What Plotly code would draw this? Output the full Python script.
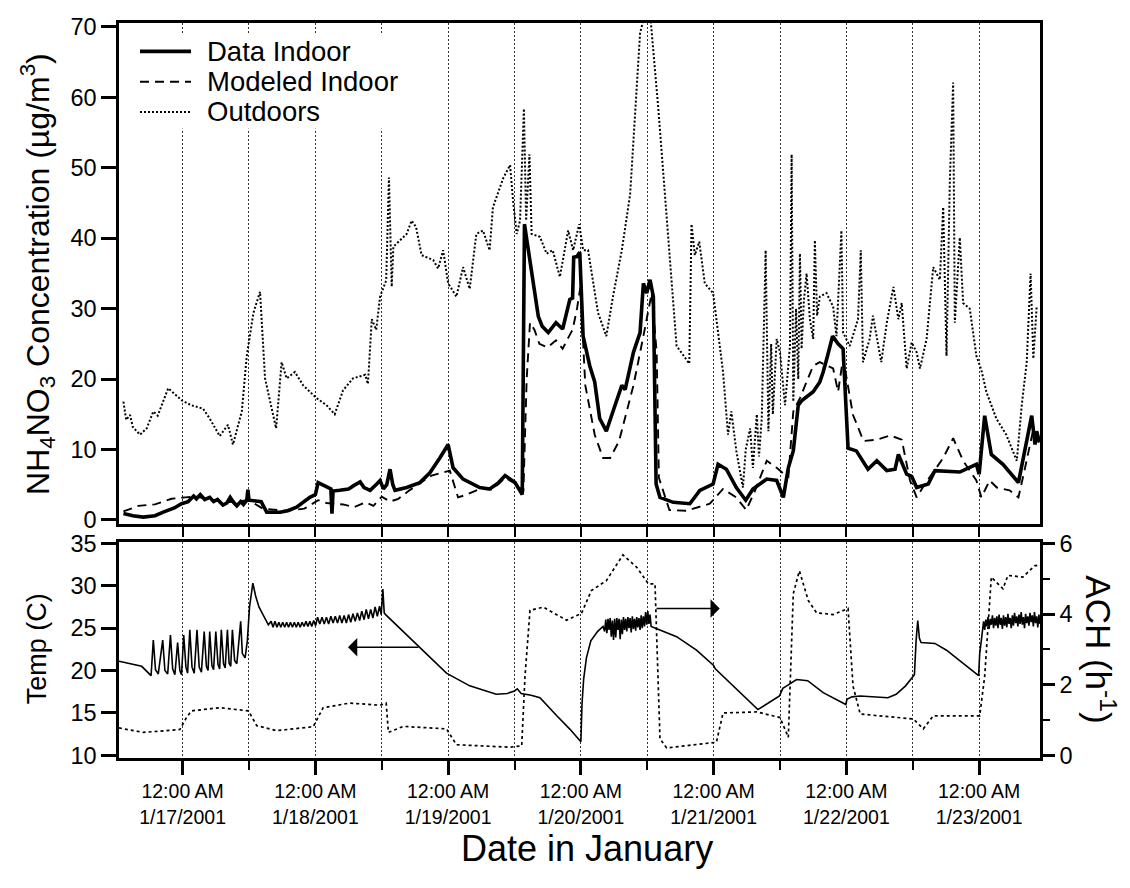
import pandas as pd
import plotly.graph_objects as go

# ---------------- data (hours since 12:00 AM 1/17/2001, value) ----------------
indoor = [(-10.7, 0.9), (-9.0, 0.6), (-7.1, 0.4), (-5.0, 0.6), (-3.5, 1.1), (-1.5, 1.7), (-0.2, 2.3),
          (1.0, 2.6), (2.0, 3.4), (2.5, 3.0), (3.2, 3.6), (4.0, 2.9), (4.9, 3.2), (5.6, 2.6), (6.3, 2.9),
          (7.3, 2.1), (8.0, 2.4), (8.6, 3.2), (9.2, 2.5), (9.8, 2.0), (10.5, 2.6), (11.0, 2.2), (11.6, 2.8),
          (11.8, 4.3), (12.0, 2.8), (13.4, 2.7), (14.2, 2.6), (15.2, 1.1), (17.6, 1.1), (19.0, 1.3),
          (20.6, 1.8), (23.0, 3.2), (24.0, 3.6), (24.5, 5.3), (25.2, 5.0), (26.0, 4.6), (26.8, 4.4),
          (27.0, 0.9), (27.2, 4.1), (28.4, 4.2), (30.0, 4.4), (31.0, 4.9), (32.1, 5.4), (32.8, 4.6),
          (33.9, 4.2), (35.1, 5.1), (35.7, 5.6), (36.3, 4.4), (36.9, 5.0), (37.5, 7.2), (38.0, 5.0),
          (38.4, 4.2), (40.5, 4.6), (42.9, 5.3), (44.7, 6.7), (46.5, 8.8), (48.0, 10.7), (48.9, 7.4),
          (50.7, 5.8), (53.7, 4.6), (55.5, 4.4), (57.0, 5.2), (58.3, 6.3), (60.1, 5.3), (61.0, 4.2),
          (61.4, 3.6), (61.8, 42.0), (63.4, 33.1), (64.3, 28.9), (65.0, 27.5), (66.1, 26.6), (67.5, 28.0),
          (68.7, 27.1), (70.0, 31.3), (70.5, 31.5), (70.7, 37.3), (71.3, 37.4), (71.8, 38.0), (72.4, 26.1),
          (73.6, 21.9), (74.5, 19.6), (75.4, 14.4), (76.6, 12.6), (77.8, 15.4), (79.4, 19.1), (80.0, 18.5),
          (81.5, 23.8), (82.7, 26.6), (83.3, 33.6), (83.9, 32.2), (84.5, 34.1), (85.1, 31.7), (85.6, 5.1),
          (86.3, 3.2), (88.7, 2.5), (91.7, 2.3), (93.5, 4.2), (95.9, 5.1), (96.8, 7.9), (98.3, 7.2),
          (100.1, 4.6), (101.8, 2.8), (103.1, 4.4), (105.6, 5.8), (107.4, 5.6), (108.6, 3.2), (109.5, 7.4),
          (110.4, 9.8), (111.3, 16.3), (112.0, 17.0), (114.0, 18.2), (115.2, 19.6), (115.8, 21.0),
          (116.6, 23.3), (117.5, 26.1), (118.5, 25.0), (119.4, 24.3), (120.3, 10.2), (121.8, 9.8),
          (123.9, 7.2), (125.5, 8.4), (127.3, 7.0), (128.8, 7.2), (129.4, 9.3), (130.9, 6.5), (131.8, 6.2),
          (132.7, 4.6), (134.8, 5.1), (136.0, 7.0), (140.5, 6.8), (143.5, 7.9), (144.0, 6.5), (145.0, 14.8),
          (146.2, 9.3), (148.3, 7.9), (151.1, 5.3), (152.3, 9.8), (153.5, 14.8), (154.1, 10.7),
          (154.4, 12.6), (154.9, 11.0)]

modeled = [(-10.7, 1.2), (-8.0, 2.0), (-5.0, 2.2), (-2.0, 3.0), (0.5, 3.2), (2.5, 3.3), (5.0, 2.9),
           (8.0, 2.5), (12.0, 2.8), (14.5, 1.6), (18.5, 1.3), (22.0, 1.6), (24.5, 2.8), (26.0, 2.4),
           (29.0, 2.2), (31.0, 1.8), (33.0, 2.5), (34.5, 2.0), (36.0, 3.3), (37.5, 2.6), (39.0, 3.0),
           (41.0, 4.2), (45.0, 6.3), (48.3, 7.0), (49.8, 3.2), (51.0, 3.5), (53.7, 4.4), (56.0, 4.3),
           (58.3, 6.0), (60.5, 5.0), (61.6, 4.0), (62.2, 20.0), (62.8, 28.0), (63.6, 27.0), (64.5, 25.0),
           (66.0, 24.5), (67.5, 25.5), (68.7, 24.3), (69.8, 26.0), (70.5, 27.0), (71.3, 30.0), (71.9, 33.0),
           (72.8, 19.1), (74.5, 12.1), (76.0, 8.8), (77.3, 8.8), (78.9, 11.2), (81.5, 19.1), (83.3, 26.1),
           (84.8, 32.2), (85.7, 23.8), (86.1, 6.0), (88.0, 1.4), (91.0, 1.3), (95.3, 2.3), (97.7, 4.4),
           (100.1, 3.2), (101.9, 1.4), (103.5, 4.2), (105.6, 8.4), (107.4, 7.4), (109.5, 6.0),
           (110.4, 15.4), (111.6, 17.3), (114.0, 21.9), (115.2, 22.4), (117.6, 21.5), (118.5, 18.2),
           (119.4, 23.0), (121.2, 14.9), (123.1, 11.2), (125.5, 11.4), (127.9, 12.0), (130.0, 11.4),
           (131.5, 5.6), (132.7, 3.2), (134.2, 5.1), (137.5, 8.8), (139.3, 11.6), (141.1, 8.4),
           (143.5, 5.6), (144.4, 3.2), (145.9, 5.6), (147.2, 4.6), (149.5, 4.2), (151.1, 3.2),
           (152.3, 7.4), (153.8, 12.9), (154.4, 10.7)]

outdoor = [(-10.7, 16.8), (-10.2, 14.2), (-9.5, 14.9), (-9.0, 13.2), (-7.7, 12.1), (-6.5, 13.0),
           (-5.3, 15.4), (-4.5, 14.8), (-2.6, 18.7), (-0.2, 17.0), (1.5, 16.3), (3.7, 15.8), (4.9, 14.4),
           (6.7, 11.9), (8.2, 13.5), (9.1, 10.7), (10.7, 15.4), (11.6, 23.3), (12.8, 29.4), (14.0, 32.4),
           (14.9, 20.1), (16.4, 14.4), (16.9, 13.0), (17.9, 22.4), (18.8, 20.1), (20.3, 21.0), (21.8, 19.1),
           (23.0, 18.2), (24.2, 17.3), (26.0, 16.3), (27.5, 15.0), (29.0, 18.4), (30.8, 20.1), (33.0, 20.6),
           (33.5, 19.3), (34.2, 28.5), (35.0, 27.0), (35.7, 31.7), (36.8, 34.0), (37.3, 48.6), (37.8, 33.1),
           (38.1, 38.8), (39.3, 39.7), (40.5, 40.6), (41.4, 42.5), (42.2, 41.6), (43.2, 37.6), (45.3, 36.9),
           (46.2, 35.7), (47.1, 38.3), (48.0, 33.6), (49.5, 31.7), (50.7, 35.9), (51.9, 32.8), (53.1, 40.6),
           (54.3, 41.1), (55.5, 38.3), (56.1, 44.4), (58.0, 48.6), (59.2, 50.4), (59.8, 44.8), (60.4, 40.6),
           (61.0, 42.5), (61.7, 58.4), (62.1, 42.5), (62.7, 51.9), (63.1, 40.6), (64.6, 40.2), (65.8, 37.8),
           (66.9, 38.3), (68.2, 34.5), (69.7, 41.1), (70.6, 38.3), (71.7, 42.0), (72.4, 38.3), (73.3, 38.3),
           (75.1, 29.4), (76.6, 26.1), (77.8, 31.7), (79.4, 38.3), (80.9, 46.2), (82.7, 69.1), (83.6, 72.0),
           (84.5, 72.0), (86.0, 58.4), (87.5, 42.5), (89.3, 24.7), (91.6, 22.2), (92.0, 42.0), (92.6, 37.6),
           (93.4, 39.5), (94.4, 33.6), (95.9, 32.2), (96.5, 28.5), (97.7, 21.0), (98.6, 12.1), (99.2, 15.4),
           (100.1, 9.8), (101.3, 4.6), (101.8, 10.0), (102.6, 13.0), (103.1, 7.4), (103.8, 15.0),
           (104.2, 9.0), (104.7, 14.4), (105.4, 38.3), (105.9, 12.6), (106.4, 25.0), (106.7, 15.0),
           (107.4, 25.7), (108.0, 23.8), (108.9, 16.3), (109.8, 24.7), (110.1, 51.9), (110.4, 16.8),
           (110.9, 30.0), (111.3, 20.0), (111.6, 37.8), (111.9, 24.3), (112.3, 31.0), (112.8, 35.0),
           (113.4, 28.5), (114.0, 25.7), (114.3, 39.7), (114.7, 29.0), (115.2, 31.7), (116.4, 32.2),
           (117.6, 30.3), (118.2, 26.1), (119.1, 41.1), (119.4, 26.6), (120.6, 24.7), (122.1, 28.5),
           (122.6, 38.3), (123.0, 22.4), (124.2, 25.7), (124.8, 29.0), (126.3, 22.4), (127.3, 28.0),
           (128.5, 33.1), (129.4, 28.5), (130.0, 30.8), (130.9, 21.5), (131.8, 25.2), (132.7, 23.8),
           (133.3, 21.5), (134.5, 25.7), (135.7, 35.9), (136.9, 34.1), (137.5, 44.4), (138.1, 23.3),
           (138.7, 48.1), (139.3, 62.1), (139.6, 28.0), (139.9, 32.2), (140.5, 40.1), (141.1, 30.8),
           (142.3, 30.0), (143.5, 23.3), (144.4, 21.3), (145.3, 18.2), (147.1, 14.4), (148.9, 12.1),
           (150.8, 8.4), (151.7, 16.3), (152.6, 22.4), (153.3, 35.0), (153.8, 22.9), (154.4, 30.3)]

temp = [(-11.5, 21.1), (-10.7, 21.0), (-7.4, 20.5), (-5.7, 19.4),
        (-5.3, 23.6), (-4.9, 20.1), (-4.4, 19.6), (-3.6, 23.6), (-3.2, 20.0), (-2.7, 19.6),
        (-2.2, 24.2), (-1.8, 20.2), (-1.4, 19.5), (-0.9, 23.3), (-0.5, 20.0), (-0.2, 19.5),
        (0.2, 24.2), (0.6, 20.4), (0.9, 19.7), (1.3, 24.8), (1.7, 20.4), (2.1, 19.7),
        (2.6, 24.8), (3.0, 20.4), (3.4, 19.8), (3.9, 24.6), (4.3, 20.5), (4.6, 20.0),
        (4.9, 24.6), (5.3, 20.6), (5.6, 20.1), (6.0, 24.6), (6.4, 20.7), (6.7, 20.2),
        (7.0, 24.8), (7.4, 20.8), (7.7, 20.3), (8.1, 24.8), (8.4, 20.9), (8.7, 20.5),
        (9.0, 24.8), (9.4, 21.2), (9.8, 20.8), (10.5, 25.8), (10.8, 22.0), (11.3, 21.5),
        (11.7, 23.5), (12.1, 27.5), (12.7, 30.3), (13.2, 28.8), (13.8, 27.5), (14.6, 26.5),
        (15.5, 25.4), (16.0, 25.8), (16.35, 25.1), (16.7, 25.8), (17.05, 25.1), (17.4, 25.7),
        (17.75, 25.1), (18.1, 25.7), (18.45, 25.1), (18.8, 25.7), (19.15, 25.1), (19.5, 25.7),
        (19.85, 25.1), (20.2, 25.7), (20.55, 25.1), (20.9, 25.7), (21.25, 25.1), (21.6, 25.7),
        (21.95, 25.2), (22.3, 25.8), (22.65, 25.2), (23.0, 25.8), (23.35, 25.2), (23.7, 25.9),
        (24.05, 25.3), (24.4, 26.3), (24.8, 25.5), (25.2, 26.3), (25.6, 25.5), (26.0, 26.3),
        (26.4, 25.5), (26.8, 26.4), (27.2, 25.6), (27.6, 26.4), (28.0, 25.6), (28.4, 26.5),
        (28.8, 25.6), (29.2, 26.5), (29.6, 25.6), (30.0, 26.6), (30.4, 25.7), (30.8, 26.7),
        (31.2, 25.8), (31.6, 26.8), (32.0, 25.9), (32.4, 27.0), (32.8, 26.0), (33.2, 27.2),
        (33.6, 26.1), (34.0, 27.2), (34.4, 26.2), (34.8, 27.5), (35.2, 26.4), (35.6, 27.6),
        (35.9, 26.6), (36.2, 29.6), (36.45, 26.8), (36.7, 26.6),
        (39.6, 24.8), (42.8, 22.8), (47.7, 19.7), (51.9, 18.2), (56.7, 17.2), (58.7, 17.3),
        (60.0, 17.6), (60.5, 17.85), (61.2, 17.3), (63.0, 17.1), (64.6, 16.8), (67.6, 14.7),
        (70.0, 13.1), (72.0, 11.6), (72.2, 16.0), (72.5, 19.0), (73.0, 21.5), (73.8, 23.5),
        (75.0, 24.6), (76.0, 25.2),
        (76.3, 24.6), (76.5, 26.0), (76.7, 24.4), (76.9, 26.1), (77.1, 24.8), (77.3, 26.2),
        (77.5, 24.0), (77.7, 25.9), (77.9, 23.6), (78.1, 26.1), (78.3, 23.9), (78.5, 26.2),
        (78.7, 24.8), (78.9, 26.1), (79.1, 23.7), (79.3, 26.0), (79.5, 24.3), (79.7, 26.3),
        (79.9, 24.8), (80.1, 26.1), (80.3, 24.6), (80.5, 26.3), (80.7, 25.0), (80.9, 26.2),
        (81.1, 24.5), (81.3, 26.4), (81.5, 24.9), (81.7, 26.1), (81.9, 24.7), (82.1, 26.3),
        (82.3, 25.1), (82.5, 26.2), (82.7, 24.8), (82.9, 26.5), (83.1, 25.0), (83.3, 26.4),
        (83.5, 25.2), (83.7, 26.9), (83.9, 25.4), (84.1, 27.0), (84.3, 25.5), (84.5, 26.6),
        (84.7, 25.2), (85.5, 25.0), (89.3, 24.0), (92.9, 22.4), (96.0, 20.6), (96.3, 20.2),
        (100.1, 17.8), (104.0, 15.4), (107.9, 17.0), (108.5, 17.9), (109.0, 18.1), (111.0, 18.95),
        (113.0, 18.8), (115.8, 17.4), (119.9, 16.0), (120.1, 16.6), (121.0, 16.9), (122.5, 17.0),
        (127.5, 16.8), (129.0, 17.2), (130.7, 18.2), (132.3, 19.5), (132.6, 23.5), (132.9, 25.9),
        (133.2, 23.8), (133.5, 23.3), (136.0, 23.2), (138.1, 22.4), (143.9, 19.4), (144.1, 22.0),
        (144.4, 23.6), (144.8, 25.8),
        (145.0, 24.8), (145.2, 26.0), (145.4, 25.2), (145.6, 26.3), (145.8, 24.9), (146.0, 26.1),
        (146.2, 25.4), (146.4, 26.5), (146.6, 25.0), (146.8, 26.2), (147.0, 25.3), (147.2, 26.4),
        (147.4, 25.0), (147.6, 26.6), (147.8, 25.4), (148.0, 26.2), (148.2, 24.9), (148.4, 26.5),
        (148.6, 25.3), (148.8, 26.3), (149.0, 25.1), (149.2, 26.7), (149.4, 25.5), (149.6, 26.2),
        (149.8, 25.0), (150.0, 26.5), (150.2, 25.3), (150.4, 26.8), (150.6, 25.6), (150.8, 26.4),
        (151.0, 25.2), (151.2, 26.6), (151.4, 25.5), (151.6, 26.9), (151.8, 25.4), (152.0, 26.3),
        (152.2, 25.0), (152.4, 26.7), (152.6, 25.6), (152.8, 26.4), (153.0, 25.3), (153.2, 26.8),
        (153.4, 25.7), (153.6, 26.5), (153.8, 25.2), (154.0, 26.9), (154.2, 25.6), (154.4, 26.4),
        (154.6, 25.1), (154.8, 26.6), (155.0, 25.5)]

ach = [(-11.5, 0.78), (-10.7, 0.75), (-7.1, 0.65), (-0.5, 0.73), (0.7, 1.07), (1.6, 1.26), (6.7, 1.35),
       (11.9, 1.26), (13.4, 0.84), (17.0, 0.70), (23.6, 0.81), (25.4, 1.35), (30.2, 1.48), (35.7, 1.42),
       (36.8, 1.48), (37.2, 0.65), (39.9, 0.82), (47.7, 0.75), (49.5, 0.30), (59.2, 0.23), (61.3, 0.27),
       (61.9, 2.24), (62.8, 4.11), (65.2, 4.20), (69.4, 3.83), (72.1, 4.02), (73.9, 4.67), (76.6, 4.95),
       (79.6, 5.68), (82.1, 5.33), (84.2, 4.86), (85.4, 4.86), (86.3, 0.47), (87.5, 0.21), (96.5, 0.37),
       (97.7, 1.20), (103.8, 1.23), (108.0, 1.07), (109.5, 0.51), (110.4, 4.58), (111.5, 5.23),
       (113.1, 4.39), (114.6, 4.04), (117.6, 3.99), (120.3, 4.16), (121.2, 1.96), (122.5, 1.17),
       (132.1, 1.03), (133.9, 0.75), (135.7, 1.12), (144.1, 1.12), (145.0, 2.24), (146.2, 5.05),
       (148.3, 4.72), (149.2, 5.10), (151.9, 5.05), (154.0, 5.37), (155.0, 5.40)]

day_labels = ["1/17/2001", "1/18/2001", "1/19/2001", "1/20/2001", "1/21/2001", "1/22/2001", "1/23/2001"]
legend_names = ["Data Indoor", "Modeled Indoor", "Outdoors"]

# ---------------- helpers ----------------
T0 = pd.Timestamp("2001-01-17 00:00")


def t(h):
    return T0 + pd.Timedelta(hours=h)


def ts(h):
    return t(h).strftime("%Y-%m-%d %H:%M:%S")


def xs(series):
    return [t(p[0]) for p in series]


def ys(series):
    return [p[1] for p in series]


# page layout: plot area spans x 119..1040 px, y 14..758 px
L, R, TOP, BOT = 119, 1040, 14, 758


def px(x):
    return (x - L) / (R - L)


def py(y):
    return (BOT - y) / (BOT - TOP)


x_range = [ts(-11.5), ts(155.0)]
major = [ts(24 * d) for d in range(7)]
minor = [ts(24 * d + 12) for d in range(6)]
ticktext = ["12:00 AM<br>" + lab for lab in day_labels]

FONT = "Arial, Liberation Sans, Helvetica, sans-serif"
GRID = dict(showgrid=True, gridcolor="#333333", griddash="2px,2px", gridwidth=1)

styles = {
    "Data Indoor": dict(color="black", width=3.6),
    "Modeled Indoor": dict(color="black", width=1.9, dash="9px,6px"),
    "Outdoors": dict(color="black", width=2.0, dash="2px,2px"),
}

fig = go.Figure()

fig.add_trace(go.Scatter(x=xs(outdoor), y=ys(outdoor), mode="lines", name="Outdoors",
                         line=styles["Outdoors"], xaxis="x", yaxis="y", showlegend=False))
fig.add_trace(go.Scatter(x=xs(modeled), y=ys(modeled), mode="lines", name="Modeled Indoor",
                         line=styles["Modeled Indoor"], xaxis="x", yaxis="y", showlegend=False))
fig.add_trace(go.Scatter(x=xs(indoor), y=ys(indoor), mode="lines", name="Data Indoor",
                         line=styles["Data Indoor"], xaxis="x", yaxis="y", showlegend=False))

fig.add_trace(go.Scatter(x=xs(temp), y=ys(temp), mode="lines", name="Temp",
                         line=dict(color="black", width=1.6),
                         xaxis="x2", yaxis="y2", showlegend=False))
fig.add_trace(go.Scatter(x=xs(ach), y=ys(ach), mode="lines", name="ACH",
                         line=dict(color="black", width=1.7, dash="3px,3px"),
                         xaxis="x2", yaxis="y3", showlegend=False))

top_dom = [py(521), 1.0]
bot_dom = [0.0, py(539)]

fig.update_layout(
    width=1130, height=888,
    margin=dict(l=L, r=1130 - R, t=TOP, b=888 - BOT),
    plot_bgcolor="white", paper_bgcolor="white",
    font=dict(family=FONT, color="black", size=19),
    showlegend=False,
    xaxis=dict(domain=[0, 1], anchor="y", type="date", range=x_range,
               tickmode="array", tickvals=major, showticklabels=False,
               ticks="outside", ticklen=10, tickwidth=2, tickcolor="black",
               showline=True, linecolor="black", linewidth=2.5, mirror=True,
               minor=dict(tickmode="array", tickvals=minor, ticks="outside", ticklen=10,
                          tickwidth=2, tickcolor="black", **GRID),
               **GRID),
    yaxis=dict(domain=top_dom, anchor="x", range=[-0.56, 70.56],
               tickmode="array", tickvals=list(range(0, 71, 10)),
               ticks="outside", ticklen=15, tickwidth=2.5, tickcolor="black",
               tickfont=dict(size=23.5), showline=True, linecolor="black", linewidth=2.5,
               mirror=True, zeroline=False, showgrid=False),
    xaxis2=dict(domain=[0, 1], anchor="y2", type="date", range=x_range,
                tickmode="array", tickvals=major, ticktext=ticktext,
                ticks="outside", ticklen=14, tickwidth=2.5, tickcolor="black",
                tickfont=dict(size=19.5),
                showline=True, linecolor="black", linewidth=2.5, mirror=True,
                minor=dict(tickmode="array", tickvals=minor, ticks="outside", ticklen=9,
                           tickwidth=2, tickcolor="black", **GRID),
                **GRID),
    yaxis2=dict(domain=bot_dom, anchor="x2", range=[9.69, 35.2],
                tickmode="array", tickvals=[10, 15, 20, 25, 30, 35],
                ticks="outside", ticklen=15, tickwidth=2.5, tickcolor="black",
                tickfont=dict(size=23.5), showline=True, linecolor="black", linewidth=2.5,
                zeroline=False, showgrid=False),
    yaxis3=dict(overlaying="y2", anchor="x2", side="right", range=[-0.076, 6.056],
                tickmode="array", tickvals=[0, 2, 4, 6],
                ticks="outside", ticklen=12, tickwidth=2.5, tickcolor="black",
                tickfont=dict(size=23.5), showline=True, linecolor="black", linewidth=2.5,
                zeroline=False, showgrid=False,
                minor=dict(tickmode="array", tickvals=[1, 3, 5], ticks="outside",
                           ticklen=7, tickwidth=2, tickcolor="black", showgrid=False)),
)

annotations = [
    dict(text="NH<sub>4</sub>NO<sub>3</sub> Concentration (µg/m<sup>3</sup>)",
         xref="paper", yref="paper", x=px(38), y=py(268),
         textangle=-90, showarrow=False, font=dict(size=32), xanchor="center", yanchor="middle"),
    dict(text="Temp (C)", xref="paper", yref="paper", x=px(37), y=py(648),
         textangle=-90, showarrow=False, font=dict(size=27), xanchor="center", yanchor="middle"),
    dict(text="ACH (h<sup>-1</sup>)", xref="paper", yref="paper", x=px(1100),
         y=py(648), textangle=90, showarrow=False, font=dict(size=35),
         xanchor="center", yanchor="middle"),
    dict(text="Date in January", xref="paper", yref="paper", x=px(587),
         y=py(850), showarrow=False, font=dict(size=36), xanchor="center",
         yanchor="middle"),
    # arrows pointing to the axis each curve belongs to
    dict(text="", x=ts(29.9), y=22.75, xref="x2", yref="y2", ax=ts(42.9), ay=22.75,
         axref="x2", ayref="y2", showarrow=True, arrowhead=1, arrowsize=2.2, arrowwidth=1.4,
         arrowcolor="black"),
    dict(text="", x=ts(97.1), y=4.16, xref="x2", yref="y3", ax=ts(85.4), ay=4.16,
         axref="x2", ayref="y3", showarrow=True, arrowhead=1, arrowsize=2.2, arrowwidth=1.4,
         arrowcolor="black"),
]

# legend drawn as box + line samples + text
shapes = [dict(type="rect", xref="paper", yref="paper", x0=px(121.5), x1=px(402),
               y0=py(121), y1=py(25), fillcolor="white", line=dict(width=0), layer="above")]
legend_rows = [42.7, 73.5, 104.0]
for name, row in zip(legend_names, legend_rows):
    st = styles[name]
    shapes.append(dict(type="line", xref="paper", yref="paper", x0=px(140), x1=px(191),
                       y0=py(row), y1=py(row), layer="above",
                       line=dict(color="black", width=st["width"], dash=st.get("dash", "solid"))))
    annotations.append(dict(text=name, xref="paper", yref="paper", x=px(205), y=py(row),
                            xanchor="left", yanchor="middle", showarrow=False,
                            font=dict(size=27.5)))

fig.update_layout(annotations=annotations, shapes=shapes)

fig.write_html("out.html")
